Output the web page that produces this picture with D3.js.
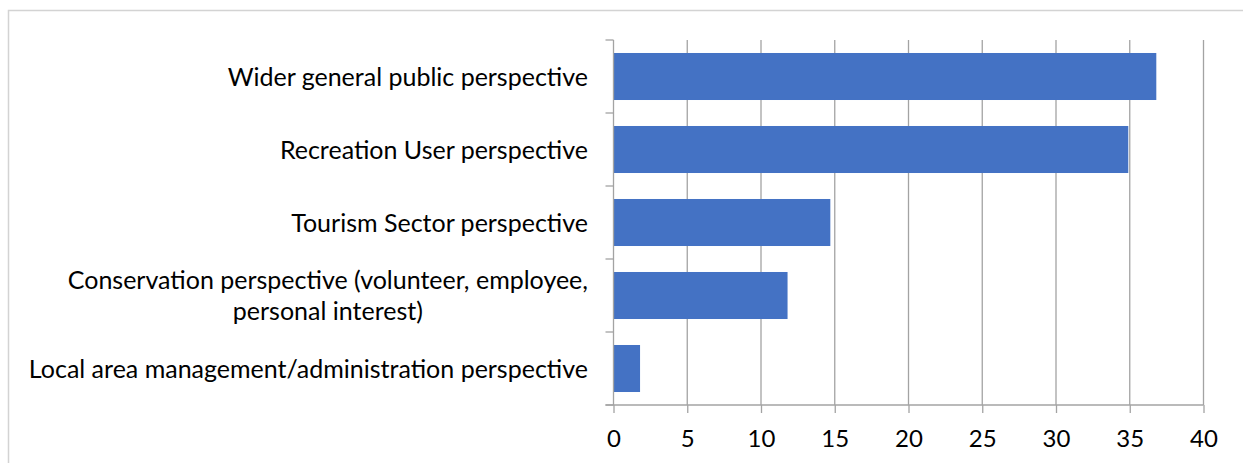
<!DOCTYPE html>
<html>
<head>
<meta charset="utf-8">
<script src="https://cdn.jsdelivr.net/npm/d3@7"></script>
<style>
  html, body { margin: 0; padding: 0; background: #fff; }
  svg { display: block; }
  text { font-family: Lato, "Open Sans", sans-serif; fill: #000; }
</style>
</head>
<body>
<svg id="chart" width="1243" height="463"></svg>
<script>
// Share of respondents by perspective (%)
const categories = [
  "Wider general public perspective",
  "Recreation User perspective",
  "Tourism Sector perspective",
  "Conservation perspective (volunteer, employee, personal interest)",
  "Local area management/administration perspective"
];
const categoryLines = [
  ["Wider general public perspective"],
  ["Recreation User perspective"],
  ["Tourism Sector perspective"],
  ["Conservation perspective (volunteer, employee,", "personal interest)"],
  ["Local area management/administration perspective"]
];
const values = [36.8, 34.9, 14.7, 11.8, 1.8];
const tickValues = [0, 5, 10, 15, 20, 25, 30, 35, 40];

const svg = d3.select("#chart");
const gridColor = "#a3a3a3";
const barColor = "#4472C4";

// outer chart frame
svg.append("rect")
  .attr("x", 8.5).attr("y", 10.5)
  .attr("width", 1260).attr("height", 480)
  .attr("fill", "none")
  .attr("stroke", "#d3d3d3")
  .attr("stroke-width", 1.5);

const plot = { left: 613.5, right: 1203.5, top: 40, bottom: 405 };

const x = d3.scaleLinear().domain([0, 40]).range([plot.left, plot.right]);
const y = d3.scaleBand()
  .domain(categories)
  .range([plot.top, plot.bottom])
  .paddingInner(0.356)
  .paddingOuter(0.178);

// vertical gridlines
svg.append("g")
  .selectAll("line")
  .data(tickValues.filter(d => d > 0))
  .join("line")
  .attr("x1", d => x(d)).attr("x2", d => x(d))
  .attr("y1", plot.top).attr("y2", plot.bottom)
  .attr("stroke", gridColor).attr("stroke-width", 1.3);

// bars
svg.append("g")
  .selectAll("rect")
  .data(values)
  .join("rect")
  .attr("x", x(0))
  .attr("y", (d, i) => y(categories[i]))
  .attr("width", d => x(d) - x(0))
  .attr("height", y.bandwidth())
  .attr("fill", barColor);

// bottom value axis
const xAxis = svg.append("g")
  .attr("transform", `translate(0,${plot.bottom})`)
  .call(d3.axisBottom(x).tickValues(tickValues).tickSize(8).tickSizeOuter(0).tickPadding(17));
xAxis.select(".domain").remove();
xAxis.selectAll(".tick line").attr("stroke", gridColor).attr("stroke-width", 1.3);
xAxis.selectAll(".tick text")
  .attr("font-size", 24)
  .attr("font-family", "Lato, sans-serif")
  .attr("fill", "#000");
svg.append("line")
  .attr("x1", plot.left - 8).attr("x2", plot.right)
  .attr("y1", plot.bottom).attr("y2", plot.bottom)
  .attr("stroke", gridColor).attr("stroke-width", 1.3);

// left category axis with boundary ticks
svg.append("line")
  .attr("x1", plot.left).attr("x2", plot.left)
  .attr("y1", plot.top).attr("y2", plot.bottom)
  .attr("stroke", gridColor).attr("stroke-width", 1.3);
const step = y.step();
const boundaries = d3.range(categories.length + 1).map(i => plot.top + i * step);
svg.append("g")
  .selectAll("line")
  .data(boundaries)
  .join("line")
  .attr("x1", plot.left - 8).attr("x2", plot.left)
  .attr("y1", d => d).attr("y2", d => d)
  .attr("stroke", gridColor).attr("stroke-width", 1.3);

// category labels
const labelRight = 588;
const labelSize = 25;
const lineGap = 31;
const labels = svg.append("g").attr("font-size", labelSize);
categoryLines.forEach((lines, i) => {
  const cy = y(categories[i]) + y.bandwidth() / 2;
  const g = labels.append("g");
  const first = g.append("text")
    .attr("text-anchor", "end")
    .attr("x", labelRight)
    .attr("y", cy - (lines.length - 1) * lineGap / 2)
    .attr("dy", "0.36em")
    .text(lines[0]);
  if (lines.length > 1) {
    const w = first.node().getComputedTextLength();
    const cx = labelRight - w / 2;
    first.attr("text-anchor", "middle").attr("x", cx);
    lines.slice(1).forEach((ln, j) => {
      g.append("text")
        .attr("text-anchor", "middle")
        .attr("x", cx)
        .attr("y", cy - (lines.length - 1) * lineGap / 2 + (j + 1) * lineGap)
        .attr("dy", "0.36em")
        .text(ln);
    });
  }
});
</script>
</body>
</html>
